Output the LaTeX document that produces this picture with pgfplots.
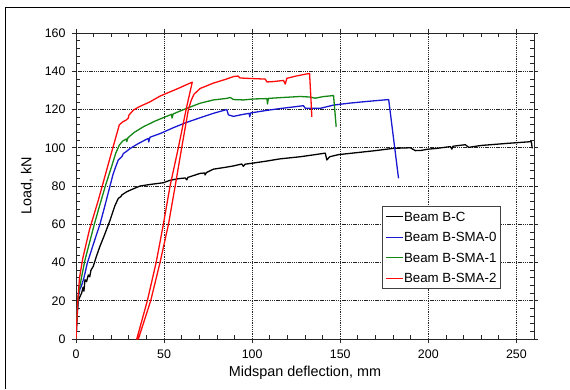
\documentclass[border=0pt]{standalone}
\usepackage{fontspec}
\setmainfont{Liberation Sans}
\usepackage{pgfplots}
\pgfplotsset{compat=1.18}
\definecolor{cblue}{RGB}{25,25,210}
\definecolor{cgreen}{RGB}{20,135,20}
\definecolor{cred}{RGB}{255,10,10}
\begin{document}
\begin{tikzpicture}
\useasboundingbox (0,0) rectangle (570pt,389pt);
\draw[line width=1pt] (5.5pt,0pt) -- (5.5pt,381pt) -- (570pt,381pt);
\begin{axis}[
  at={(76pt,50pt)}, anchor=south west,
  scale only axis, width=458pt, height=306pt,
  xmin=0, xmax=260, ymin=0, ymax=160,
  xtick={0,50,...,250}, ytick={0,20,...,160},
  minor x tick num=4, minor y tick num=4,
  tick align=outside,
  major tick length=4pt, minor tick length=-4pt,
  axis line style={line width=0.9pt, black!85},
  tick style={line width=0.7pt, black!85},
  grid=major,
  major grid style={dash pattern=on 1.3pt off 0.9pt, black!85, line width=0.6pt},
  /pgf/number format/assume math mode=true,
  ticklabel style={font=\fontsize{12.4}{14}\selectfont},
  xticklabel style={yshift=-3pt},
  yticklabel style={xshift=-3pt},
  xlabel={Midspan deflection, mm},
  ylabel={Load, kN},
  label style={font=\fontsize{14.4}{16}\selectfont},
  xlabel style={at={(axis description cs:0.5,-0.112)}, anchor=center},
  ylabel style={at={(axis description cs:-0.107,0.5)}, anchor=center},
  legend style={at={(axis description cs:0.668,0.4346)}, anchor=north west,
    draw=black!75, line width=0.8pt, inner xsep=3pt, inner ysep=5.45pt,
    font=\fontsize{13.3}{15}\selectfont, row sep=10.9pt,
    nodes={inner xsep=0.5pt, inner ysep=0pt, text height=9.6pt, text depth=0pt},
    cells={anchor=west}},
  every axis plot/.append style={line width=1.3pt, line join=round},
]
\addplot[draw=black, forget plot] coordinates {
(0,0) (0.5,10) (1.3,20) (2.2,22) (3.2,24) (4,27) (4.5,25) (5.1,31) (6,30) (7,33.5) (7.8,32.5) (8.5,36) (9.8,38) (11.5,43) (13.6,48.5) (16,54) (19.3,62) (22,69.5) (24,73.5) (25.5,74.5) (26,75.3) (28.8,77) (32,78.3) (36.4,80) (42,80.8) (49.6,81.7) (53.4,83) (58,83.8) (62,84.2) (62.9,83.2) (63.5,84.5) (70.5,86.6) (73,86.8) (73.3,85.8) (74,87) (78,88.8) (85,89.8) (89.4,90.5) (94.1,91.5) (95,90.3) (96,91.4) (100.7,92) (108,93) (115.9,94.2) (127.3,95.3) (135,96.3) (141.5,97.2) (142.4,93.6) (144,95.3) (149,96.4) (160,97.5) (170,98.5) (180.3,99.7) (189.8,100) (192.6,98.5) (196,98.6) (199.3,99.2) (205,99.7) (212.5,100.6) (213.4,99.3) (214,100.8) (221,101.6) (222.9,100.2) (230,101.2) (245,102.3) (258.5,103.2) (259,99.7)
};
\addplot[draw=cblue, forget plot] coordinates {
(0,0) (0.5,12) (1.3,22) (2.2,26) (3.2,28) (4.5,32) (6.4,39.6) (10,50) (13.6,60) (16.5,70) (19.3,80) (21,86) (22.5,90) (24,93.6) (26,95.3) (26.9,97) (28.5,98) (30.7,99.6) (35,102) (41,104.9) (41.3,103) (42,105.5) (48,107.5) (55.3,110.5) (62,113) (70.5,115.7) (78,118) (85.6,120) (86.5,117.2) (89.4,116.4) (94,117.3) (98.3,118) (98.6,116.2) (99.2,118.2) (108,119.5) (115.9,120.5) (123,121.3) (129.1,122) (130.1,120.7) (138.6,120.6) (146.2,122.3) (155,123.3) (165,124.2) (177.5,125.2) (183.1,84)
};
\addplot[draw=cgreen, forget plot] coordinates {
(0,0) (0.5,12) (1.2,22) (2.3,28) (3.5,34) (5.1,41.3) (8,51.5) (10.4,60) (13.5,70) (16.5,79.5) (18.4,85) (20.5,91) (22.5,97) (24.6,101.4) (26.5,103.5) (28.6,104.6) (28.8,103.2) (29.5,105.2) (33,108) (38.3,111) (45,114) (54.3,117.5) (54.5,115.5) (55.2,117.7) (62,120.3) (70.5,123.3) (78,125) (85.6,125.8) (87.5,126.3) (89.4,125.2) (95,125) (100.7,125.5) (108.4,125.7) (108.7,122.9) (109.2,125.8) (115.9,126.2) (127.3,126.8) (133,126.5) (135.8,125.9) (140,126.7) (146.2,127.3) (147.7,111)
};
\addplot[draw=cred, forget plot] coordinates {
(0,0) (0.4,8) (1,20) (2,32) (3.8,42) (7.6,57) (12.7,72.7) (15.5,82) (20,97) (24.6,112) (26.5,113.5) (28.5,114.5) (29.7,115.5) (30,117) (32.6,119.7) (36,121.5) (42,124) (47.7,127) (51.5,128.5) (58,131) (64,133.5) (66,134.3)
(62.5,120) (58.1,100) (53.4,80) (49.6,60) (45.5,40) (40.5,20) (34.5,0)
(35.4,0) (42.4,20) (47.7,40) (52.5,60) (56.3,80) (60,100) (63.8,120) (65.5,125) (67,128) (70.5,131) (78,133.8) (85,135.8) (89.4,137.2) (92,137.5) (93,136.5) (97,136.3) (107.4,135.9) (108.4,134.4) (112,134.6) (117.8,135.2) (118.8,133.3) (119.7,136.3) (125,137.5) (131,138.6) (132.6,138.8) (133.9,116.2)
};
\addlegendimage{legend image code/.code={\draw[black, line width=1.2pt] (0pt,0pt) -- (17pt,0pt);}}
\addlegendentry{Beam B-C}
\addlegendimage{legend image code/.code={\draw[cblue, line width=1.2pt] (0pt,0pt) -- (17pt,0pt);}}
\addlegendentry{Beam B-SMA-0}
\addlegendimage{legend image code/.code={\draw[cgreen, line width=1.2pt] (0pt,0pt) -- (17pt,0pt);}}
\addlegendentry{Beam B-SMA-1}
\addlegendimage{legend image code/.code={\draw[cred, line width=1.2pt] (0pt,0pt) -- (17pt,0pt);}}
\addlegendentry{Beam B-SMA-2}
\end{axis}
\end{tikzpicture}
\end{document}
